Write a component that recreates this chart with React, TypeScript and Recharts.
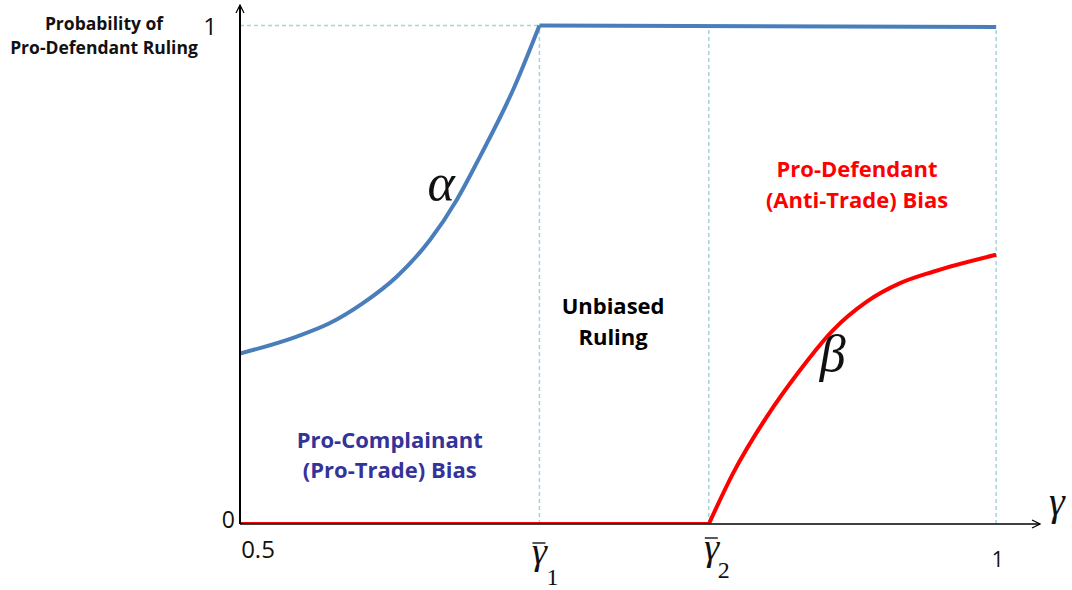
import React from 'react';
import { LineChart, Line, XAxis, YAxis, ReferenceLine, ReferenceDot } from 'recharts';

// thresholds on the gamma axis
const GAMMA_1 = 0.698;
const GAMMA_2 = 0.81;

// alpha: rising part of the blue curve, then the plateau at 1
const alphaGamma = [0.5, 0.5375, 0.5595, 0.5813, 0.6036, 0.6257, 0.6433, 0.6587, 0.6806, GAMMA_1];
const alphaProb = [0.342, 0.376, 0.403, 0.443, 0.496, 0.57, 0.65, 0.737, 0.871, 1.0];
const plateauGamma = [GAMMA_1, 1];
const plateauProb = [1.0, 0.997];

// beta: zero up to gamma2, then the red curve
const floorGamma = [0.5, GAMMA_2];
const floorProb = [0, 0];
const betaGamma = [GAMMA_2, 0.8261, 0.8483, 0.8704, 0.8922, 0.9145, 0.9365, 0.9583, 1.0];
const betaProb = [0, 0.102, 0.215, 0.309, 0.389, 0.446, 0.483, 0.506, 0.54];

const xTicks = [0.5, GAMMA_1, GAMMA_2, 1];
const yTicks = [0, 1];

const regionNames = [
  { g: 0.599, p: 0.1525, lines: ['Pro-Complainant', '(Pro-Trade) Bias'], color: '#333399' },
  { g: 0.7467, p: 0.421, lines: ['Unbiased', 'Ruling'], color: '#000000' },
  { g: 0.908, p: 0.696, lines: ['Pro-Defendant', '(Anti-Trade) Bias'], color: '#ff0000' },
];
const curveNames = [
  { g: 0.633, p: 0.65, text: 'α' },
  { g: 0.892, p: 0.307, text: 'β' },
];

const zip = (xs: number[], ys: number[]) => xs.map((g, i) => ({ g, p: ys[i] }));

const SANS = '"Open Sans", Lato, sans-serif';
const SERIF = '"Liberation Serif", "DejaVu Serif", serif';
const BLUE = '#4a7ebb';
const RED = '#ff0000';
const GUIDE = '#a3d3db';

const GammaBar = ({ x, y, sub, dx, base, bar, subDx, subBase }: any) => (
  <g>
    <line x1={x + dx - 7} x2={x + dx + 6} y1={y + bar} y2={y + bar} stroke="#222" strokeWidth={1.5} />
    <text x={x + dx} y={y + base} textAnchor="middle" fontFamily={SERIF} fontStyle="italic" fontSize={38} fill="#111">
      γ
    </text>
    <text x={x + subDx} y={y + subBase} textAnchor="middle" fontFamily={SERIF} fontSize={24} fill="#111">
      {sub}
    </text>
  </g>
);

const XTick = (props: any) => {
  const { x, y, payload } = props;
  const v = payload.value;
  if (v === 0.5) {
    return (
      <text x={x + 18} y={y + 34} textAnchor="middle" fontFamily={SANS} fontSize={24} fill="#111">
        0.5
      </text>
    );
  }
  if (v === 1) {
    return (
      <text x={x + 1.5} y={y + 43} textAnchor="middle" fontFamily={SANS} fontSize={21} fill="#111">
        1
      </text>
    );
  }
  if (v === GAMMA_1) return <GammaBar x={x} y={y} sub="1" dx={0} base={40} bar={19} subDx={13} subBase={61} />;
  return <GammaBar x={x} y={y} sub="2" dx={3} base={36} bar={14} subDx={15} subBase={54} />;
};

const YTick = (props: any) => {
  const { x, y, payload } = props;
  if (payload.value === 0) {
    return (
      <text x={x - 5} y={y + 4} textAnchor="end" fontFamily={SANS} fontSize={23} fill="#111">
        0
      </text>
    );
  }
  return (
    <text x={x - 23} y={y + 10} textAnchor="end" fontFamily={SANS} fontSize={24} fill="#111">
      1
    </text>
  );
};

const RegionName = ({ cx, cy, lines, color }: any) => (
  <text x={cx} y={cy} textAnchor="middle" fontFamily={SANS} fontWeight="bold" fontSize={22} fill={color}>
    {lines.map((l: string, i: number) => (
      <tspan key={l} x={cx} dy={i === 0 ? 0 : 30.5}>
        {l}
      </tspan>
    ))}
  </text>
);

const CurveName = ({ cx, cy, text }: any) => (
  <text x={cx} y={cy} textAnchor="middle" fontFamily={SERIF} fontStyle="italic" fontSize={52} fill="#111">
    {text}
  </text>
);

const GammaAxisName = ({ viewBox }: any) => {
  const { x, y, width } = viewBox;
  return (
    <text x={x + width + 17} y={y - 9} textAnchor="middle" fontFamily={SERIF} fontStyle="italic" fontSize={40} fill="#111">
      γ
    </text>
  );
};

const ProbAxisName = () => (
  <text x={104} y={30} textAnchor="middle" fontFamily={SANS} fontWeight="bold" fontSize={17.5} fill="#111">
    <tspan x={104}>Probability of</tspan>
    <tspan x={104} dy={24}>
      Pro-Defendant Ruling
    </tspan>
  </text>
);

export default function App() {
  return (
    <div style={{ position: 'absolute', left: 0, top: 0, width: 1072, height: 590, background: '#fff' }}>
      <LineChart width={1072} height={590} margin={{ top: 5, right: 32, bottom: 65, left: 239 }}>
        <defs>
          <marker id="arrowHead" viewBox="0 0 10 10" refX="9" refY="5" markerWidth="10" markerHeight="10" markerUnits="userSpaceOnUse" orient="auto-start-reverse">
            <path d="M1,1 L9,5 L1,9" fill="none" stroke="#000" strokeWidth={1.2} />
          </marker>
        </defs>
        <XAxis
          type="number"
          dataKey="g"
          domain={[0.5, 1.029]}
          ticks={xTicks}
          tick={<XTick />}
          tickLine={false}
          tickSize={0}
          tickMargin={0}
          height={1}
          allowDataOverflow
          axisLine={{ stroke: '#000', strokeWidth: 1.5, markerEnd: 'url(#arrowHead)' }}
          label={<GammaAxisName />}
        />
        <YAxis
          type="number"
          domain={[0, 1.041]}
          ticks={yTicks}
          tick={<YTick />}
          tickLine={false}
          tickSize={0}
          tickMargin={0}
          width={1}
          allowDataOverflow
          axisLine={{ stroke: '#000', strokeWidth: 2, markerStart: 'url(#arrowHead)' }}
          label={<ProbAxisName />}
        />
        <ReferenceLine segment={[{ x: 0.5, y: 1 }, { x: GAMMA_1, y: 1 }]} stroke={GUIDE} strokeWidth={1.5} strokeDasharray="4 3" />
        <ReferenceLine segment={[{ x: GAMMA_1, y: 0 }, { x: GAMMA_1, y: 1 }]} stroke={GUIDE} strokeWidth={1.5} strokeDasharray="4 3" />
        <ReferenceLine segment={[{ x: GAMMA_2, y: 0 }, { x: GAMMA_2, y: 1 }]} stroke={GUIDE} strokeWidth={1.5} strokeDasharray="4 3" />
        <ReferenceLine segment={[{ x: 1, y: 0 }, { x: 1, y: 0.997 }]} stroke={GUIDE} strokeWidth={1.5} strokeDasharray="4 3" />

        <Line data={zip(alphaGamma, alphaProb)} dataKey="p" type="monotone" stroke={BLUE} strokeWidth={4} dot={false} isAnimationActive={false} />
        <Line data={zip(plateauGamma, plateauProb)} dataKey="p" type="linear" stroke={BLUE} strokeWidth={4} dot={false} isAnimationActive={false} />
        <Line data={zip(floorGamma, floorProb)} dataKey="p" type="linear" stroke={RED} strokeWidth={4} dot={false} isAnimationActive={false} />
        <Line data={zip(betaGamma, betaProb)} dataKey="p" type="monotone" stroke={RED} strokeWidth={4} dot={false} isAnimationActive={false} />

        {regionNames.map((r) => (
          <ReferenceDot key={r.lines[0]} x={r.g} y={r.p} r={0} shape={(s: any) => <RegionName cx={s.cx} cy={s.cy} lines={r.lines} color={r.color} />} />
        ))}
        {curveNames.map((c) => (
          <ReferenceDot key={c.text} x={c.g} y={c.p} r={0} shape={(s: any) => <CurveName cx={s.cx} cy={s.cy} text={c.text} />} />
        ))}
      </LineChart>
    </div>
  );
}
